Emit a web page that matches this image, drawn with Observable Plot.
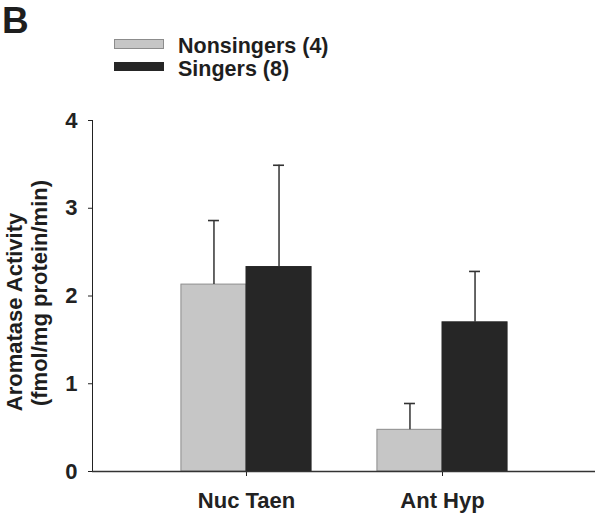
<!DOCTYPE html>
<html>
<head>
<meta charset="utf-8">
<script src="https://cdn.jsdelivr.net/npm/d3@7"></script>
<script src="https://cdn.jsdelivr.net/npm/@observablehq/plot@0.6"></script>
<style>
  html, body { margin: 0; padding: 0; background: #fff; }
  body { position: relative; width: 601px; height: 516px; overflow: hidden; font-family: "Liberation Sans", Arial, sans-serif; font-weight: bold; color: #1e1e1e; }
  #head { position: relative; width: 601px; height: 100px; }
  #panel { position: absolute; left: 2px; top: 2px; font-size: 37px; line-height: 1; }
  .sw { position: absolute; left: 114px; width: 50px; box-sizing: border-box; }
  .lt { position: absolute; left: 178px; font-size: 21.5px; line-height: 1; white-space: nowrap; }
  .yl { position: absolute; font-size: 22px; line-height: 1; white-space: nowrap; transform: translate(-50%, -50%) rotate(-90deg); color: #1e1e1e; }
  #chart svg { display: block; }
</style>
</head>
<body>
<div id="head"><div id="panel">B</div></div>
<div id="chart"></div>
<script>
// ---- data ----
const regions = ["Nuc Taen", "Ant Hyp"];
const groups = ["Nonsingers (4)", "Singers (8)"];
const nonsingerMean = [2.13, 0.475];
const nonsingerSem = [0.73, 0.30];
const singerMean = [2.33, 1.70];
const singerSem = [1.16, 0.58];
const yTicks = [0, 1, 2, 3, 4];
const yLabelLines = ["Aromatase Activity", "(fmol/mg protein/min)"];

// ---- styles ----
const fills = ["#c6c6c6", "#262626"];
const strokes = ["#8c8c8c", "#262626"];
const barW = 0.332;      // bar width in x units (group spacing = 1)
const capHalf = 0.028;   // half width of error caps in x units

const means = [nonsingerMean, singerMean];
const sems = [nonsingerSem, singerSem];
const rows = regions.flatMap((r, ri) => groups.map((g, gi) => {
  const x1 = ri + 1 + (gi - 1) * barW;
  return {region: r, group: g, gi, mean: means[gi][ri], sem: sems[gi][ri],
          x1, x2: x1 + barW, xc: x1 + barW / 2};
}));

// legend
const head = document.getElementById("head");
const swTop = [39, 62], swH = [10, 9], ltTop = [35.5, 58.5];
groups.forEach((g, gi) => {
  const s = document.createElement("div");
  s.className = "sw";
  s.style.top = swTop[gi] + "px";
  s.style.height = swH[gi] + "px";
  s.style.background = fills[gi];
  s.style.border = "1px solid " + strokes[gi];
  head.appendChild(s);
  const t = document.createElement("div");
  t.className = "lt";
  t.style.top = ltTop[gi] + "px";
  t.textContent = g;
  head.appendChild(t);
});

// y-axis title (two lines, rotated)
const ylPos = [[15, 312], [40, 293]];
yLabelLines.forEach((txt, i) => {
  const d = document.createElement("div");
  d.className = "yl";
  d.style.left = ylPos[i][0] + "px";
  d.style.top = ylPos[i][1] + "px";
  d.textContent = txt;
  document.body.appendChild(d);
});

const chart = Plot.plot({
  width: 601,
  height: 416,
  marginLeft: 92,
  marginRight: 6,
  marginTop: 20,
  marginBottom: 45,
  style: {fontFamily: '"Liberation Sans", Arial, sans-serif', fontWeight: "bold", fontSize: "22px", color: "#222", background: "#fff"},
  x: {domain: [0.2143, 2.7806], ticks: [1, 2], tickFormat: d => regions[d - 1], tickSize: 5, tickPadding: 16, label: null},
  y: {domain: [0, 4], ticks: yTicks, tickFormat: d => String(d), tickSize: 4, tickPadding: 11, label: null, line: true},
  marks: [
    ...groups.map((g, gi) => Plot.rectY(rows.filter(d => d.gi === gi), {
      x1: "x1", x2: "x2", y: "mean", fill: fills[gi], stroke: strokes[gi], strokeWidth: 1
    })),
    Plot.ruleX(rows, {x: "xc", y1: "mean", y2: d => d.mean + d.sem, stroke: "#333", strokeWidth: 1.5}),
    Plot.ruleY(rows, {y: d => d.mean + d.sem, x1: d => d.xc - capHalf, x2: d => d.xc + capHalf, stroke: "#333", strokeWidth: 1.6}),
    Plot.ruleY([0], {stroke: "#333", strokeWidth: 1.3})
  ]
});
document.getElementById("chart").appendChild(chart);
</script>
</body>
</html>
